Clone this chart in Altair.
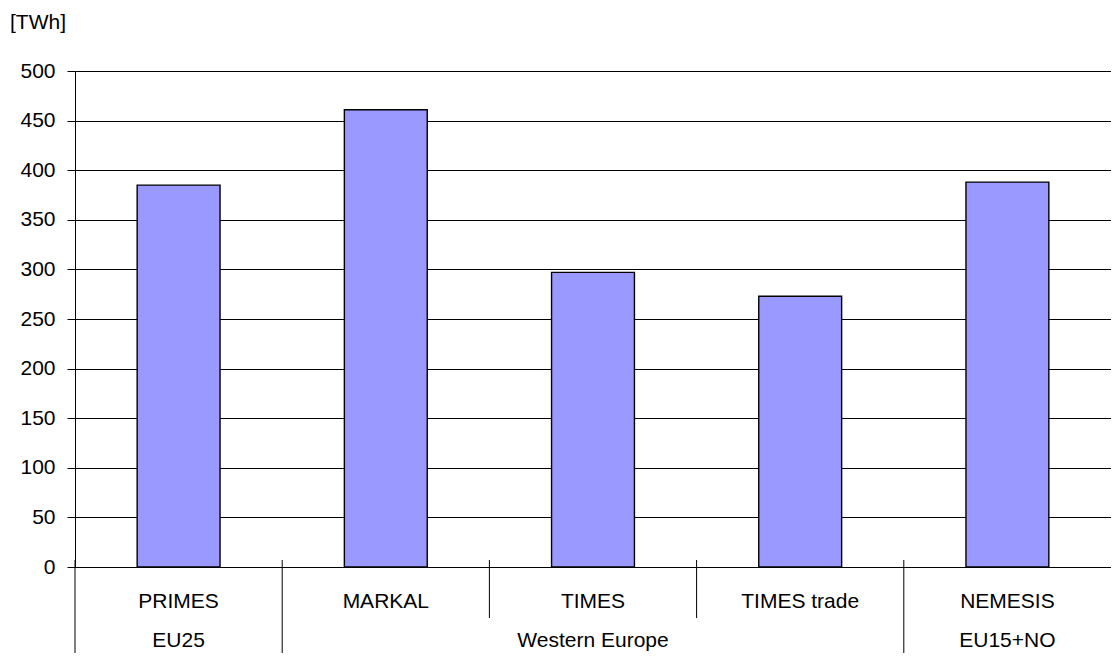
import altair as alt
import pandas as pd

models = ["PRIMES", "MARKAL", "TIMES", "TIMES trade", "NEMESIS"]
regions = ["EU25", "Western Europe", "Western Europe", "Western Europe", "EU15+NO"]
values = [385, 461, 297, 273, 388]
y_ticks = [0, 50, 100, 150, 200, 250, 300, 350, 400, 450, 500]
unit_label = "[TWh]"

FONT = "Liberation Sans"
FS = 21

df = pd.DataFrame({"model": models, "region": regions, "value": values})

# separators at each category's left edge; full-length where the region changes
full = [i == 0 or regions[i] != regions[i - 1] for i in range(len(models))]
sep_df = pd.DataFrame({"model": models, "full": full})

# group labels at middle member of each region run
runs = []
start = 0
for i in range(1, len(models) + 1):
    if i == len(models) or regions[i] != regions[start]:
        runs.append((regions[start], models[(start + i - 1) // 2]))
        start = i
grp_df = pd.DataFrame({"region": [r[0] for r in runs], "model": [r[1] for r in runs]})

H = 496
xscale = alt.Scale(domain=models, paddingInner=0, paddingOuter=0)

bars = alt.Chart(df).mark_bar(
    color="#9999FF", stroke="#000000", strokeWidth=1.4,
    width=alt.RelativeBandSize(0.4)
).encode(
    x=alt.X("model:N", scale=xscale, sort=models,
            axis=alt.Axis(title=None, labelAngle=0, ticks=False, domain=True,
                          domainColor="#000000", labelFont=FONT, labelFontSize=FS,
                          labelColor="#000000", labelBaseline="middle",
                          labelPadding=34)),
    y=alt.Y("value:Q", scale=alt.Scale(domain=[0, 500], nice=False),
            axis=alt.Axis(title=None, values=y_ticks, grid=True, gridColor="#000000",
                          gridOpacity=1, gridWidth=1, tickSize=8, tickColor="#000000",
                          domainColor="#000000", labelFont=FONT, labelFontSize=FS,
                          labelColor="#000000", labelPadding=12)),
)

seps_full = alt.Chart(sep_df).transform_filter("datum.full").mark_rule(
    color="#000000", strokeWidth=1
).encode(
    x=alt.X("model:N", scale=xscale, sort=models, bandPosition=0),
    y=alt.value(H - 7), y2=alt.value(H + 100),
)
seps_short = alt.Chart(sep_df).transform_filter("!datum.full").mark_rule(
    color="#000000", strokeWidth=1
).encode(
    x=alt.X("model:N", scale=xscale, sort=models, bandPosition=0),
    y=alt.value(H - 7), y2=alt.value(H + 51),
)

grp_text = alt.Chart(grp_df).mark_text(
    font=FONT, fontSize=FS, color="#000000", baseline="middle", align="center"
).encode(
    x=alt.X("model:N", scale=xscale, sort=models, bandPosition=0.5),
    y=alt.value(H + 74),
    text="region:N",
)

unit = alt.Chart(pd.DataFrame({"t": [unit_label]})).mark_text(
    font=FONT, fontSize=FS, color="#000000", baseline="middle", align="left"
).encode(x=alt.value(-65), y=alt.value(-48), text="t:N")

chart = alt.layer(bars, seps_full, seps_short, grp_text, unit).properties(
    width=1036, height=H,
    autosize=alt.AutoSizeParams(type="none"),
    padding={"left": 67, "top": 63, "right": 0, "bottom": 86},
).configure_view(stroke=None).configure(background="#ffffff")

chart.save("out.html", embed_options={"renderer": "svg", "actions": False})
